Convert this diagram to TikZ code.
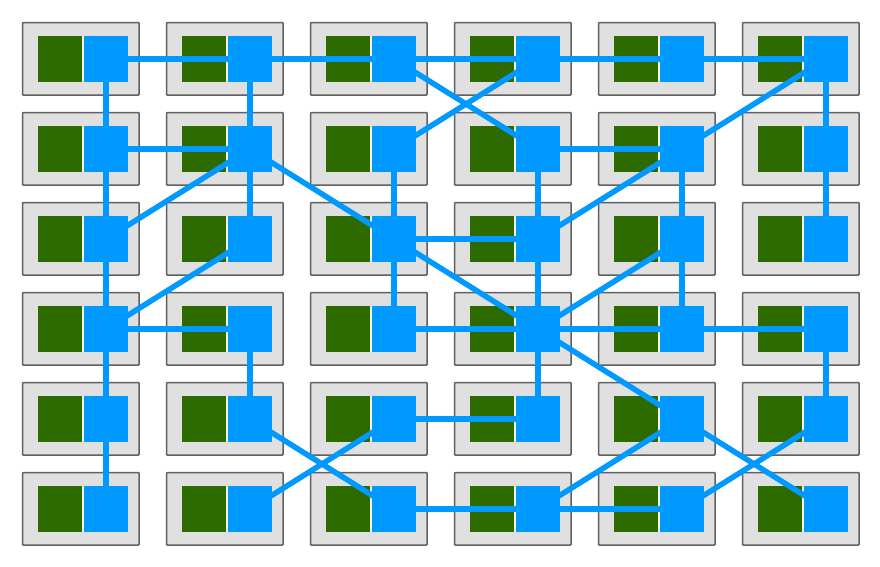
\documentclass[tikz,border=0pt]{standalone}
\begin{document}
\pgfdeclarelayer{cells}
\pgfdeclarelayer{links}
\pgfsetlayers{cells,links,main}
\definecolor{cellgray}{HTML}{E0E0E0}
\definecolor{cellborder}{HTML}{606060}
\definecolor{leafgreen}{HTML}{2D6B00}
\definecolor{linkblue}{HTML}{0099FF}
\definecolor{gapcream}{HTML}{F4F1DC}
\tikzset{
  cellbox/.style={fill=cellgray, draw=cellborder, line width=1.5pt, rounded corners=0.8pt},
  greenbox/.style={fill=leafgreen, draw=none},
  gapbox/.style={fill=gapcream, draw=none},
  bluebox/.style={fill=linkblue, draw=none, inner sep=0pt, minimum width=44pt, minimum height=46pt, outer sep=0pt},
  linkline/.style={draw=linkblue, line width=5.5pt},
}
\begin{tikzpicture}[x=1pt,y=-1pt]
\useasboundingbox (0,0) rectangle (880,566);
\foreach \r in {0,...,5}{
  \foreach \c in {0,...,5}{
    \pgfmathsetmacro{\ox}{144*\c}
    \pgfmathsetmacro{\oy}{90*\r}
    \begin{pgfonlayer}{cells}
      \draw[cellbox] (22.5+\ox,22.5+\oy) rectangle (139+\ox,95+\oy);
      \fill[greenbox] (38+\ox,36+\oy) rectangle (82+\ox,82+\oy);
      \fill[gapbox] (82+\ox,36+\oy) rectangle (84+\ox,82+\oy);
    \end{pgfonlayer}
    \node[bluebox] (b-\r-\c) at (106+\ox,59+\oy) {};
  }
}
\begin{pgfonlayer}{links}
\foreach \a/\b in {0-0/0-1, 0-1/0-2, 0-2/0-3, 0-3/0-4, 0-4/0-5,
  0-0/1-0, 0-1/1-1, 0-2/1-3, 0-3/1-2, 0-5/1-4, 0-5/1-5,
  1-0/1-1, 1-1/2-0, 1-1/2-1, 1-1/2-2, 1-0/2-0, 1-2/2-2, 1-3/1-4, 1-3/2-3, 1-4/2-3, 1-4/2-4, 1-5/2-5,
  2-0/3-0, 2-1/3-0, 2-2/2-3, 2-2/3-2, 2-2/3-3, 2-3/3-3, 2-4/3-3, 2-4/3-4,
  3-0/3-1, 3-0/4-0, 3-2/3-3, 3-3/3-4, 3-4/3-5, 3-1/4-1, 3-3/4-3, 3-3/4-4, 3-5/4-5,
  4-0/5-0, 4-1/5-2, 4-2/4-3, 4-2/5-1, 4-4/5-3, 4-4/5-5, 4-5/5-4,
  5-2/5-3, 5-3/5-4}{
  \draw[linkline] (b-\a.center) -- (b-\b.center);
}
\end{pgfonlayer}
\end{tikzpicture}
\end{document}
